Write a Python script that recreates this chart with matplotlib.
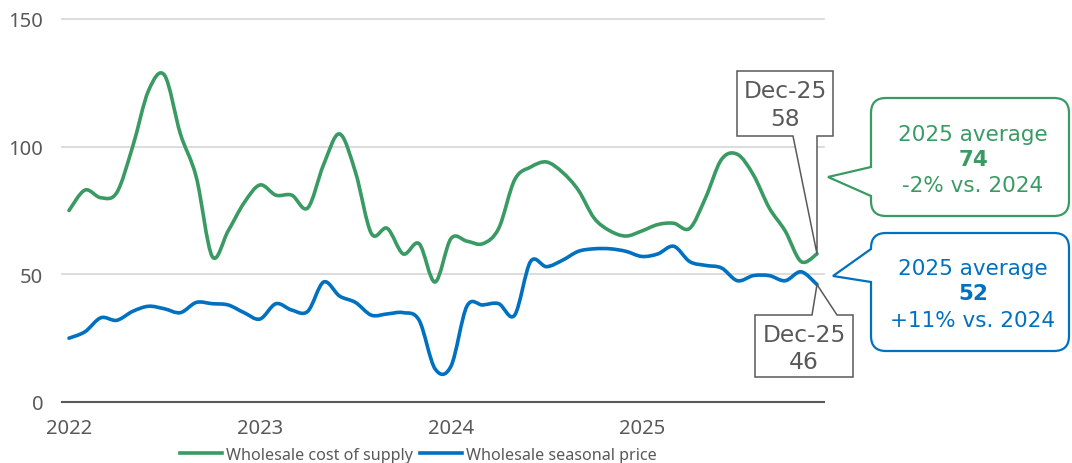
"""Wholesale cost of supply vs wholesale seasonal price, monthly 2022-2025."""

import numpy as np
import matplotlib

matplotlib.use("Agg")
import matplotlib.pyplot as plt
from matplotlib.lines import Line2D
from matplotlib.patches import PathPatch
from matplotlib.path import Path
from matplotlib.transforms import Affine2D

# monthly values, Jan-2022 .. Dec-2025
cost_of_supply = [
    75, 83, 80, 82, 100, 122, 128, 105, 88, 57, 67, 78,
    85, 81, 81, 76, 93, 105, 90, 66, 68, 58, 62, 47,
    64, 63, 62, 68, 87, 92, 94, 90, 83, 72, 67, 65,
    67, 69.5, 70, 68, 80, 95, 97, 89, 76, 67, 55, 58,
]
seasonal_price = [
    25, 27.5, 33, 32, 35.5, 37.5, 36.5, 35, 39, 38.5, 38, 35,
    32.5, 38.5, 36, 35.5, 47, 41.5, 39, 34, 34.5, 35, 32, 13,
    14, 37.5, 38, 38.5, 34, 55, 53, 55.5, 59, 60, 60, 59,
    57, 58, 61, 55, 53.5, 52.5, 47.5, 49.5, 49.5, 47.5, 51, 46,
]
year_labels = ["2022", "2023", "2024", "2025"]
series_names = ["Wholesale cost of supply", "Wholesale seasonal price"]

GREEN = "#3a9a63"
BLUE = "#0070c0"
GREY = "#595959"


def smooth_path(ys):
    # excel-style smoothed line: cubic bezier through every point
    pts = np.column_stack([np.arange(len(ys)), ys]).astype(float)
    n = len(pts)
    verts, codes = [pts[0]], [Path.MOVETO]
    for i in range(n - 1):
        p0, p1 = pts[max(i - 1, 0)], pts[i]
        p2, p3 = pts[i + 1], pts[min(i + 2, n - 1)]
        verts += [p1 + (p2 - p0) / 6, p2 - (p3 - p1) / 6, p2]
        codes += [Path.CURVE4] * 3
    return Path(verts, codes)


def callout_path(x0, y0, x1, y1, ya, tip, yb, r):
    # rounded box with a pointer notch on its left edge (pixel coords, y down)
    v = [(x0 + r, y0), (x1 - r, y0), (x1, y0), (x1, y0 + r), (x1, y1 - r),
         (x1, y1), (x1 - r, y1), (x0 + r, y1), (x0, y1), (x0, y1 - r),
         (x0, yb), tip, (x0, ya), (x0, y0 + r), (x0, y0), (x0 + r, y0), (0, 0)]
    c = [Path.MOVETO, Path.LINETO, Path.CURVE3, Path.CURVE3, Path.LINETO,
         Path.CURVE3, Path.CURVE3, Path.LINETO, Path.CURVE3, Path.CURVE3,
         Path.LINETO, Path.LINETO, Path.LINETO, Path.LINETO, Path.CURVE3,
         Path.CURVE3, Path.CLOSEPOLY]
    return Path(v, c)


fig = plt.figure(figsize=(10.72, 4.64), dpi=100)
ax = fig.add_axes([62 / 1072, 1 - 403 / 464, 762 / 1072, 383 / 464])

for ys, color in [(cost_of_supply, GREEN), (seasonal_price, BLUE)]:
    ax.add_patch(PathPatch(smooth_path(ys), fill=False, ec=color, lw=2.6,
                           capstyle="round", joinstyle="round", zorder=3))

n = len(cost_of_supply)
ax.set_xlim(-0.44, n - 1 + 0.44)
ax.set_ylim(0, 150)
ax.set_yticks([0, 50, 100, 150])
ax.set_xticks(np.arange(0, n, 12))
ax.set_xticklabels(year_labels)
ax.tick_params(length=0, labelsize=14.5, labelcolor=GREY)
ax.tick_params(axis="y", pad=13.5)
ax.tick_params(axis="x", pad=11.5)
for lab in ax.get_xticklabels() + ax.get_yticklabels():
    lab.set_fontfamily("Noto Sans")
ax.yaxis.grid(True, color="#d9d9d9", lw=1.3)
for gl in ax.get_ygridlines():
    gl.set_clip_on(False)
for s in ["top", "right", "left"]:
    ax.spines[s].set_visible(False)
ax.spines["bottom"].set_color(GREY)
ax.spines["bottom"].set_linewidth(1.5)
ax.spines["bottom"].set_zorder(4)

handles = [Line2D([], [], color=GREEN, lw=2.6), Line2D([], [], color=BLUE, lw=2.6)]
fig.legend(handles, series_names, loc="center", bbox_to_anchor=(418 / 1072, 1 - 456 / 464),
           ncol=2, frameon=False, handlelength=2.65, handletextpad=0.2,
           columnspacing=0.45, prop={"family": "Noto Sans", "size": 11.6},
           labelcolor=GREY)

# annotations, laid out in pixel coordinates measured from the top-left
H = fig.bbox.height
pix = Affine2D().scale(1, -1).translate(0, H)


def data_px(x, y):
    dx, dy = ax.transData.transform((x, y))
    return dx, H - dy


tip1 = data_px(n - 1, cost_of_supply[-1])
box1 = [(737, 72), (833, 72), (833, 137), (817, 137), tip1, (793, 137), (737, 137), (737, 72)]
tip2 = data_px(n - 1, seasonal_price[-1])
box2 = [(755, 316), (812, 316), tip2, (837, 316), (853, 316), (853, 378), (755, 378), (755, 316)]
for box in (box1, box2):
    fig.patches.append(PathPatch(Path(box, closed=True), fc="white", ec=GREY, lw=1.1,
                                 transform=pix, zorder=5))

fig.text(785, 98, "Dec-25", transform=pix, ha="center", va="baseline", fontsize=16.8, color=GREY, zorder=6)
fig.text(785, 126, f"{cost_of_supply[-1]:.0f}", transform=pix, ha="center", va="baseline", fontsize=16.8, color=GREY, zorder=6)
fig.text(804, 342, "Dec-25", transform=pix, ha="center", va="baseline", fontsize=16.8, color=GREY, zorder=6)
fig.text(804, 369, f"{seasonal_price[-1]:.0f}", transform=pix, ha="center", va="baseline", fontsize=16.8, color=GREY, zorder=6)

fig.patches.append(PathPatch(callout_path(871, 99, 1069, 217, 168, (828, 178), 197, 15),
                             fc="white", ec=GREEN, lw=1.6, transform=pix, zorder=5))
fig.patches.append(PathPatch(callout_path(871, 234, 1069, 352, 250, (833, 277), 283, 15),
                             fc="white", ec=BLUE, lw=1.6, transform=pix, zorder=5))

avg_lines = [
    (GREEN, [141, 166, 192], ["2025 average", "74", "-2% vs. 2024"]),
    (BLUE, [275, 300, 327], ["2025 average", "52", "+11% vs. 2024"]),
]
for color, ys, texts in avg_lines:
    for k, (y, t) in enumerate(zip(ys, texts)):
        fig.text(973, y, t, transform=pix, ha="center", va="baseline", fontsize=15.5,
                 color=color, fontweight="bold" if k == 1 else "normal", zorder=6)

fig.savefig("out.png", dpi=100)
